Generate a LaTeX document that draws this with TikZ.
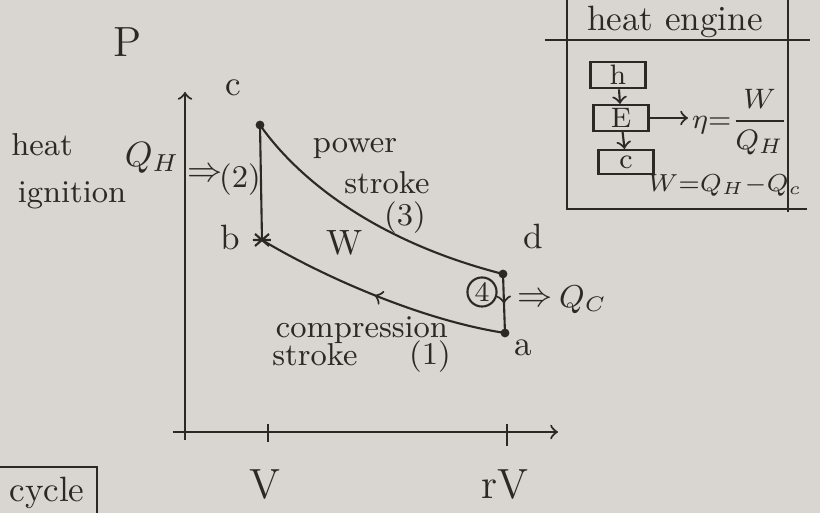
\documentclass[tikz,border=0pt]{standalone}
\usetikzlibrary{decorations.markings}
\definecolor{pencil}{rgb}{0.17,0.16,0.15}
\definecolor{paper}{rgb}{0.85,0.84,0.82}
\tikzset{
  hand/.style={draw=pencil,line width=0.6pt},
  lbl/.style={text=pencil,font=\small,inner sep=1pt},
  ptdot/.style={circle,fill=pencil,inner sep=0pt,minimum size=2.5pt},
  enginebox/.style={draw=pencil,line width=0.6pt,minimum width=0.55cm,minimum height=0.24cm,inner sep=1pt,font=\footnotesize,text=pencil},
  midarrow/.style={postaction=decorate,decoration={markings,mark=at position #1 with {\arrow{>}}}}
}
\begin{document}
\begin{tikzpicture}[x=0.01cm,y=-0.01cm]
\fill[paper] (0,0) rectangle (820,513);
\useasboundingbox (0,0) rectangle (820,513);

% axes
\coordinate (pbottom) at (185,440);
\coordinate (ptop) at (185,92);
\coordinate (vleft) at (173,432);
\coordinate (vright) at (558,432);
\draw[hand,->] (pbottom) -- (ptop);
\draw[hand,->] (vleft) -- (vright);
\draw[hand] (268,424) -- (268,442);
\draw[hand] (507,424) -- (507,446);
\node[lbl,font=\large] (plabel) at (128,42) {P};
\node[lbl,font=\large] (vlabel) at (265,485) {V};
\node[lbl,font=\large] (rvlabel) at (505,485) {rV};

% cycle points
\coordinate (ptA) at (505,333);
\coordinate (ptB) at (262,240);
\coordinate (ptC) at (260,125);
\coordinate (ptD) at (503,274);
\draw[hand] (ptC) -- (ptB);
\draw[hand,midarrow=0.5] (ptD) -- (ptA);
\draw[hand] (ptC) .. controls (295,175) and (370,240) .. (ptD);
\draw[hand,midarrow=0.52] (ptA) .. controls (420,320) and (320,275) .. (ptB);
\node[ptdot] (dotA) at (ptA) {};
\node[ptdot] (dotC) at (ptC) {};
\node[ptdot] (dotD) at (ptD) {};
\draw[hand] (ptB) ++(-7,-6) -- ++(14,12) (ptB) ++(-7,6) -- ++(14,-12) (ptB) ++(-9,0) -- ++(18,0);
\node[lbl,font=\normalsize] (labc) at (233,88) {c};
\node[lbl,font=\normalsize] (labb) at (230,238) {b};
\node[lbl,font=\normalsize] (labd) at (533,237) {d};
\node[lbl,font=\normalsize] (laba) at (523,348) {a};

% heat in
\node[lbl] (heat) at (42,145) {heat};
\node[lbl] (ignition) at (72,195) {ignition};
\node[lbl,font=\normalsize] (qh) at (152,158) {$Q_H$};
\node[lbl,font=\normalsize] (qharrow) at (205,175) {$\Rightarrow$};
\node[lbl] (step2) at (240,180) {(2)};

% strokes
\node[lbl] (power) at (355,148) {power};
\node[lbl] (pstroke) at (387,183) {stroke};
\node[lbl] (step3) at (405,218) {(3)};
\node[lbl,font=\normalsize] (work) at (345,243) {W};
\node[lbl,circle,draw=pencil,line width=0.6pt,inner sep=0.5pt,font=\footnotesize] (step4) at (482,292) {4};
\node[lbl,font=\normalsize] (qcarrow) at (535,300) {$\Rightarrow$};
\node[lbl] (qc) at (583,300) {$Q_C$};
\node[lbl] (compression) at (362,330) {compression};
\node[lbl] (cstroke) at (315,355) {stroke};
\node[lbl] (step1) at (430,357) {(1)};

% cycle tag
\draw[hand] (0,467) -- (97,467) -- (97,513);
\node[lbl,font=\normalsize] (cycle) at (47,493) {cycle};

% heat engine panel
\draw[hand] (567,0) -- (567,210);
\draw[hand] (788,0) -- (788,212);
\draw[hand] (545,40) -- (810,40);
\draw[hand] (568,209) -- (807,209);
\node[lbl,font=\normalsize] (engtitle) at (675,22) {heat engine};
\node[enginebox] (hbox) at (618,75) {h};
\node[enginebox] (ebox) at (621,118) {E};
\node[enginebox] (cbox) at (626,162) {c};
\draw[hand,->] (hbox) -- (ebox);
\draw[hand,->] (ebox) -- (cbox);
\node[lbl,anchor=west,font=\footnotesize] (eta) at (688,122) {$\eta{=}\displaystyle\frac{W}{Q_H}$};
\draw[hand,->] (ebox.east) -- (ebox.east -| eta.west);
\node[lbl,font=\scriptsize] (balance) at (725,185) {$W{=}Q_H{-}Q_c$};
\end{tikzpicture}
\end{document}
